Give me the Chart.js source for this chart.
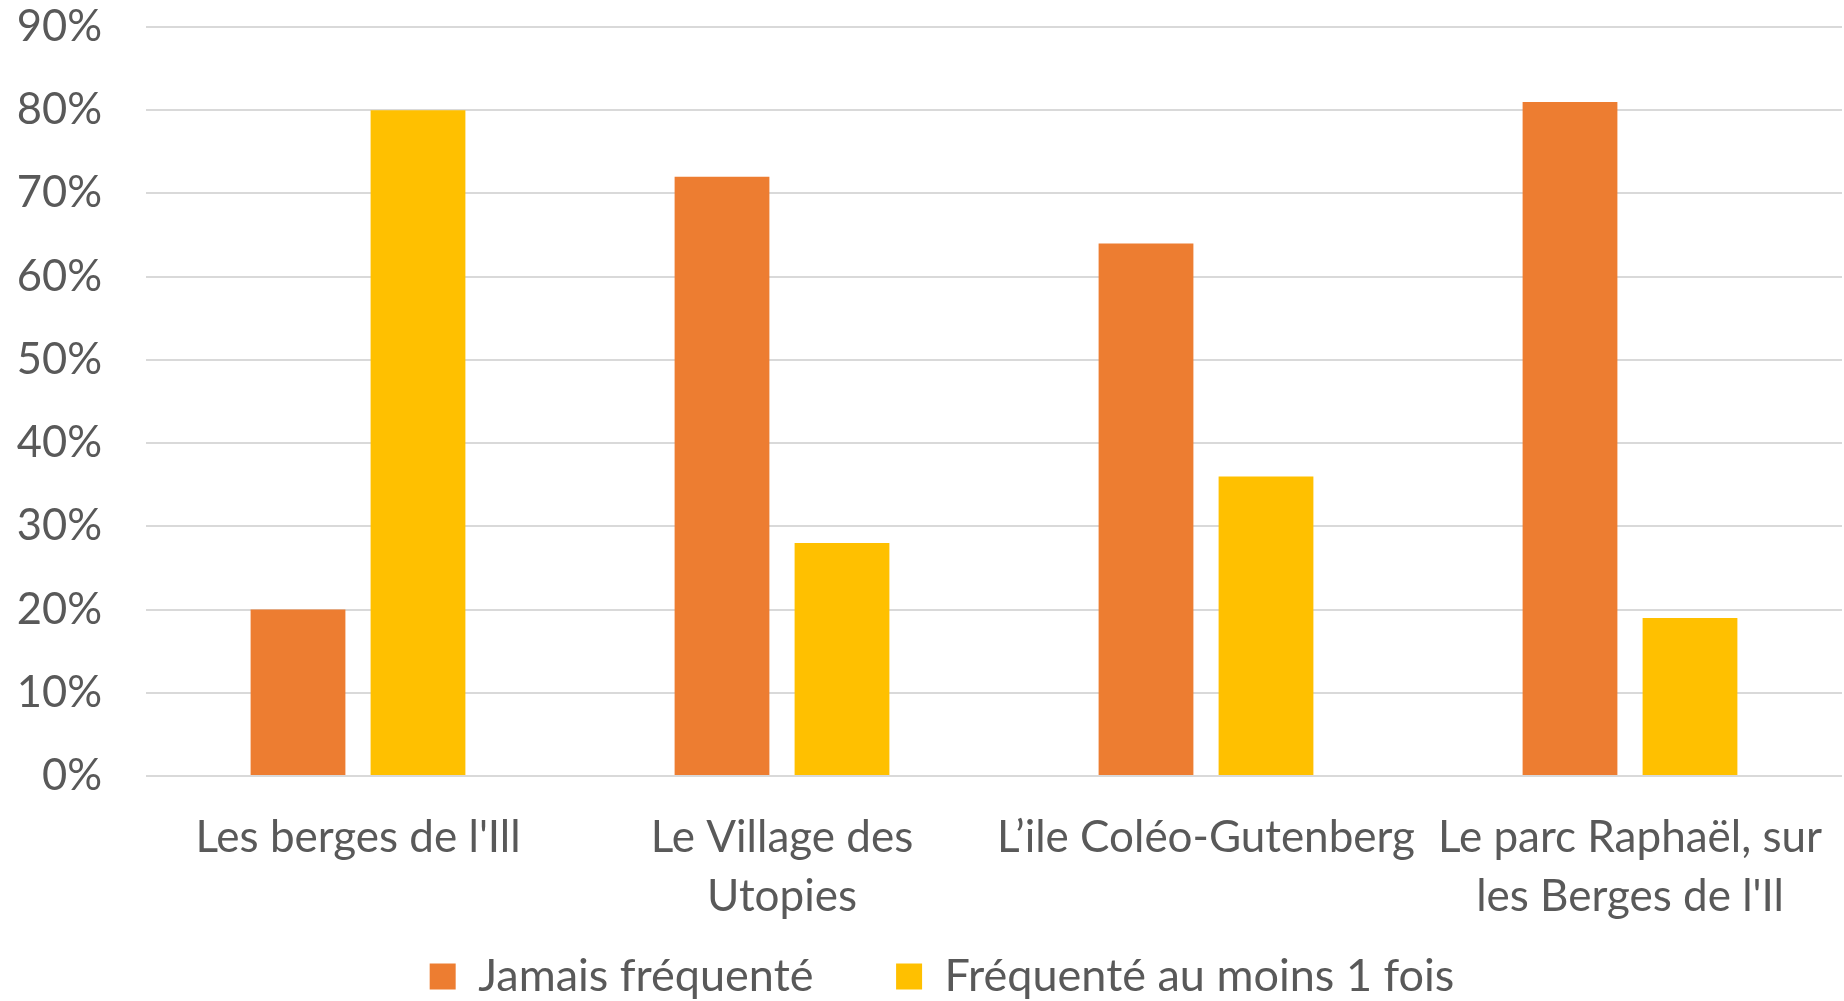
<!DOCTYPE html>
<html>
<head>
<meta charset="utf-8">
<script src="https://cdn.jsdelivr.net/npm/chart.js@4/dist/chart.umd.min.js"></script>
<style>
  html, body { margin:0; padding:0; background:#fff; }
  #wrap { width:1844px; height:1001px; position:relative; }
</style>
</head>
<body>
<div id="wrap"><canvas id="chart"></canvas></div>
<script>
// lieux (catégories, libellés sur 2 lignes si besoin)
const categories = [
  "Les berges de l'Ill",
  ["Le Village des", "Utopies"],
  "L\u2019ile Coléo-Gutenberg",
  ["Le parc Raphaël, sur", "les Berges de l'Il"]
];
const seriesNames = ["Jamais fréquenté", "Fréquenté au moins 1 fois"];
const jamais    = [20, 72, 64, 81];
const auMoins1  = [80, 28, 36, 19];
const yTicks    = [0, 10, 20, 30, 40, 50, 60, 70, 80, 90];

const txt = '#595959';
const FONT = 'Lato, "Noto Sans", sans-serif';
const clear = 'rgba(0,0,0,0)';

// décale la légende un peu vers la droite (comme dans l'original)
const legendShift = {
  id: 'legendShift',
  afterLayout(chart) { if (chart.legend) chart.legend.left += 42; }
};

new Chart(document.getElementById('chart'), {
  type: 'bar',
  data: {
    labels: categories,
    datasets: [
      { label: seriesNames[0], data: jamais,   backgroundColor: '#ED7D31' },
      { label: seriesNames[1], data: auMoins1, backgroundColor: '#FFC000' }
    ]
  },
  plugins: [legendShift],
  options: {
    responsive: true,
    maintainAspectRatio: false,
    animation: false,
    devicePixelRatio: 1,
    layout: { padding: { left: 0, right: 2, top: 27, bottom: -8 } },
    datasets: { bar: { categoryPercentage: 0.566, barPercentage: 0.79 } },
    plugins: {
      legend: {
        position: 'bottom',
        labels: {
          color: txt, boxWidth: 26, boxHeight: 26, padding: 2,
          font: { family: FONT, size: 45 },
          // écart plus large entre les deux entrées
          generateLabels: chart => {
            const items = Chart.defaults.plugins.legend.labels.generateLabels(chart);
            items.forEach((it, i) => { if (i < items.length - 1) it.text += '\u00a0'.repeat(7); });
            return items;
          }
        }
      },
      tooltip: { enabled: false }
    },
    scales: {
      x: {
        afterFit: ax => { ax.height = 176; },
        grid: { display: true, drawOnChartArea: false, drawTicks: true, tickLength: 32, tickColor: clear },
        border: { display: false },
        ticks: { color: txt, font: { family: FONT, size: 44, lineHeight: 1.34 }, padding: 0, maxRotation: 0, autoSkip: false }
      },
      y: {
        min: 0, max: 90,
        afterBuildTicks: ax => { ax.ticks = yTicks.map(v => ({ value: v })); },
        afterFit: ax => { ax.width = 146; },
        grid: { color: '#d9d9d9', lineWidth: 2, drawTicks: true, tickLength: 44, tickColor: clear },
        border: { display: false },
        ticks: { color: txt, font: { family: FONT, size: 43.5 }, padding: 0, callback: v => v + '%' }
      }
    }
  }
});
</script>
</body>
</html>
